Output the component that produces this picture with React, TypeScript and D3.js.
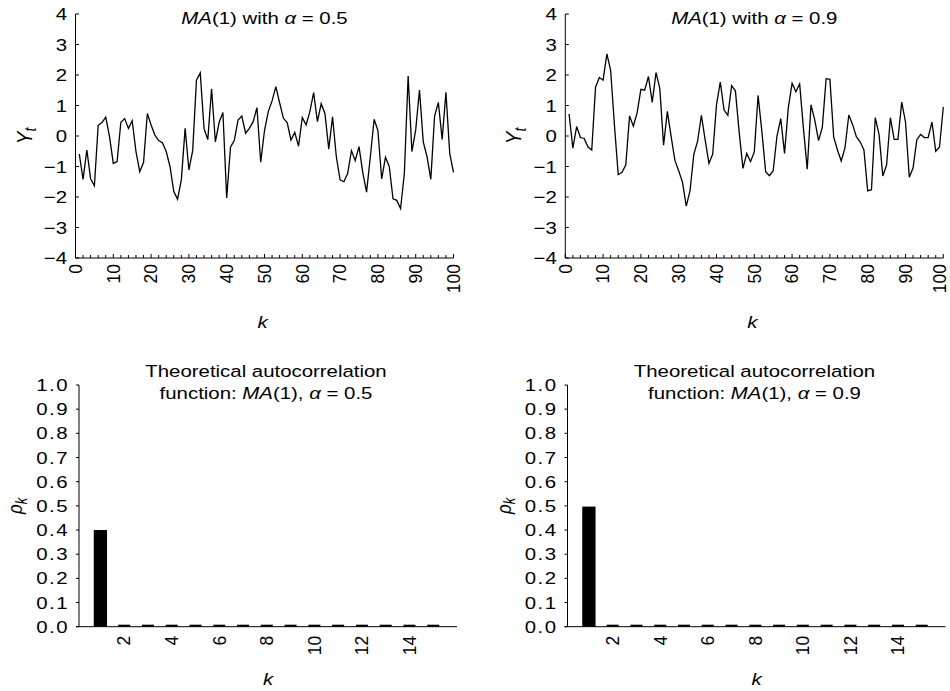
import React from 'react';
import * as d3 from 'd3';

// simulated MA(1) series, k = 1..100
const seriesA05: number[] = [
  -0.59, -1.42, -0.46, -1.40, -1.63, 0.35, 0.44, 0.62, -0.02, -0.90,
  -0.84, 0.45, 0.57, 0.25, 0.50, -0.51, -1.17, -0.87, 0.74, 0.36,
  0.03, -0.15, -0.22, -0.51, -1.00, -1.82, -2.07, -1.44, 0.25, -1.11,
  -0.48, 1.83, 2.07, 0.25, -0.12, 1.55, -0.19, 0.45, 0.77, -2.03,
  -0.37, -0.15, 0.52, 0.65, 0.09, 0.25, 0.47, 0.93, -0.86, 0.18,
  0.80, 1.15, 1.62, 1.09, 0.58, 0.44, -0.13, 0.12, -0.33, 0.61,
  0.36, 0.80, 1.42, 0.47, 1.06, 0.73, -0.43, 0.63, -0.68, -1.44,
  -1.50, -1.23, -0.48, -0.81, -0.35, -1.20, -1.84, -0.68, 0.55, 0.18,
  -1.41, -0.70, -1.00, -2.06, -2.11, -2.38, -1.22, 1.97, -0.51, 0.20,
  1.51, -0.19, -0.68, -1.42, 0.66, 1.10, -0.11, 1.43, -0.57, -1.19,
];

const seriesA09: number[] = [
  0.72, -0.40, 0.31, -0.05, -0.08, -0.36, -0.46, 1.60, 1.92, 1.83,
  2.69, 2.15, 0.35, -1.27, -1.19, -0.95, 0.66, 0.32, 0.76, 1.53,
  1.50, 1.95, 1.10, 2.08, 1.56, -0.30, 0.81, -0.02, -0.80, -1.15,
  -1.51, -2.30, -1.79, -0.60, -0.17, 0.68, -0.13, -0.90, -0.59, 1.02,
  1.77, 0.85, 0.68, 1.65, 1.48, 0.12, -1.06, -0.57, -0.84, -0.52,
  1.33, 0.15, -1.17, -1.30, -1.14, 0.00, 0.57, -0.57, 0.93, 1.73,
  1.45, 1.71, 0.25, -1.09, 1.02, 0.52, -0.15, 0.29, 1.88, 1.86,
  -0.03, -0.46, -0.82, -0.38, 0.69, 0.38, -0.02, -0.19, -0.46, -1.80,
  -1.76, 0.60, 0.05, -1.31, -0.95, 0.60, -0.11, -0.11, 1.11, 0.46,
  -1.35, -1.05, -0.12, 0.05, -0.05, -0.05, 0.46, -0.50, -0.36, 0.95,
];

// theoretical autocorrelation, lags 1..15
const lags = [1, 2, 3, 4, 5, 6, 7, 8, 9, 10, 11, 12, 13, 14, 15];
const acfA05 = [0.4, 0, 0, 0, 0, 0, 0, 0, 0, 0, 0, 0, 0, 0, 0];
const acfA09 = [0.497, 0, 0, 0, 0, 0, 0, 0, 0, 0, 0, 0, 0, 0, 0];

const yTicksTop = [-4, -3, -2, -1, 0, 1, 2, 3, 4];
const xTicksTop = [0, 10, 20, 30, 40, 50, 60, 70, 80, 90, 100];
const xMinorTop = d3.range(0, 101, 2);
const yTicksAcf = [0, 0.1, 0.2, 0.3, 0.4, 0.5, 0.6, 0.7, 0.8, 0.9, 1.0];
const xTicksAcf = [2, 4, 6, 8, 10, 12, 14];

const FONT = "'Liberation Sans', Arial, Helvetica, sans-serif";
const FS = 17;
const SX = 1.2; // the figure is a little wider than tall

const PW = 378;

function T(props: { x: number; y: number; anchor?: string; rot?: boolean; dy?: string; size?: number; sx?: number; ls?: number; children: React.ReactNode }) {
  const { x, y, anchor = 'middle', rot = false, dy, size = FS, sx = SX, ls } = props;
  return (
    <text
      transform={`translate(${x},${y}) scale(${sx},1)${rot ? ' rotate(-90)' : ''}`}
      textAnchor={anchor}
      dy={dy}
      fontSize={size}
      letterSpacing={ls}
    >
      {props.children}
    </text>
  );
}

function LinePanel({ x0, data, alpha }: { x0: number; data: number[]; alpha: string }) {
  const x = d3.scaleLinear().domain([0, 100]).range([x0, x0 + PW]);
  const y = d3.scaleLinear().domain([-4, 4]).range([258, 14]);
  const line = d3.line<number>().x((_, i) => x(i + 1)).y(d => y(d));
  const cx = x0 + PW / 2;
  return (
    <g>
      <line x1={x0} x2={x0} y1={y(4)} y2={y(-4)} stroke="#000" />
      <line x1={x0} x2={x0 + PW} y1={y(-4)} y2={y(-4)} stroke="#000" />
      {yTicksTop.map(t => (
        <g key={'yt' + t}>
          <line x1={x0} x2={x0 + 3.5} y1={y(t)} y2={y(t)} stroke="#000" />
          <T x={x0 - 8.5} y={y(t)} anchor="end" dy="0.36em">{d3.format('d')(t)}</T>
        </g>
      ))}
      {xMinorTop.map(t => (
        <line key={'xm' + t} x1={x(t)} x2={x(t)} y1={y(-4)} y2={y(-4) - (t % 10 === 0 ? 4 : 3)} stroke="#000" />
      ))}
      {xTicksTop.map(t => (
        <T key={'xt' + t} x={Math.min(x(t), 939.5)} y={y(-4) + 6} anchor="end" rot sx={1} size={17.5} dy="0.36em">{t}</T>
      ))}
      <path d={line(data) || ''} fill="none" stroke="#000" strokeWidth={1.3} strokeLinejoin="miter" />
      <T x={cx} y={24}>
        <tspan fontStyle="italic">MA</tspan>
        <tspan>(1) with </tspan>
        <tspan fontStyle="italic">α</tspan>
        <tspan> = {alpha}</tspan>
      </T>
      <T x={x0 - 44} y={y(0)} rot>
        <tspan fontStyle="italic" fontSize={19}>Y</tspan>
        <tspan fontStyle="italic" fontSize={14} dy="4">t</tspan>
      </T>
      <T x={cx - 2} y={328}>
        <tspan fontStyle="italic">k</tspan>
      </T>
    </g>
  );
}

function AcfPanel({ x0, data, alpha }: { x0: number; data: number[]; alpha: string }) {
  const x = d3.scaleLinear().domain([0.1, 16]).range([x0, x0 + PW]);
  const y = d3.scaleLinear().domain([0, 1]).range([626.7, 385]);
  const bw = 13.3;
  const dw = 12;
  const cx = x0 + PW / 2;
  return (
    <g>
      <line x1={x0} x2={x0} y1={y(1)} y2={y(0)} stroke="#000" />
      <line x1={x0 - 3} x2={x0 + PW} y1={y(0)} y2={y(0)} stroke="#000" />
      {yTicksAcf.map(t => (
        <g key={'ya' + t}>
          <line x1={x0 - 3} x2={x0} y1={y(t)} y2={y(t)} stroke="#000" />
          <T x={x0 - 10} y={y(t)} anchor="end" dy="0.36em" ls={1.2}>{d3.format('.1f')(t)}</T>
        </g>
      ))}
      {lags.map((k, i) => {
        const h = Math.max(y(0) - y(data[i]), 2);
        const w = data[i] > 0 ? bw : dw;
        return <rect key={'b' + k} x={x(k) - w / 2} y={y(0) - h} width={w} height={h} fill="#000" />;
      })}
      {xTicksAcf.map(t => (
        <T key={'xa' + t} x={x(t)} y={y(0) + 9} anchor="end" rot sx={1} size={17.5} dy="0.36em">{t}</T>
      ))}
      <T x={cx - 2} y={377}>Theoretical autocorrelation</T>
      <T x={cx - 2} y={399}>
        <tspan>function: </tspan>
        <tspan fontStyle="italic">MA</tspan>
        <tspan>(1), </tspan>
        <tspan fontStyle="italic">α</tspan>
        <tspan> = {alpha}</tspan>
      </T>
      <T x={x0 - 57} y={(y(0) + y(1)) / 2} rot>
        <tspan fontStyle="italic" fontSize={17}>ρ</tspan>
        <tspan fontStyle="italic" fontSize={13} dy="4">k</tspan>
      </T>
      <T x={cx} y={685}>
        <tspan fontStyle="italic">k</tspan>
      </T>
    </g>
  );
}

export default function App() {
  return (
    <svg
      width={950}
      height={691}
      style={{ position: 'absolute', left: 0, top: 0, display: 'block', background: '#fff' }}
      fontFamily={FONT}
      fill="#000"
    >
      <LinePanel x0={75.5} data={seriesA05} alpha="0.5" />
      <LinePanel x0={565.3} data={seriesA09} alpha="0.9" />
      <AcfPanel x0={79} data={acfA05} alpha="0.5" />
      <AcfPanel x0={567.5} data={acfA09} alpha="0.9" />
    </svg>
  );
}
